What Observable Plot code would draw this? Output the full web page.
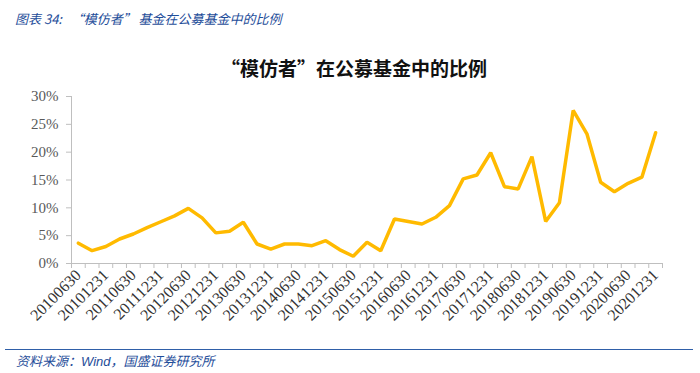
<!DOCTYPE html>
<html>
<head>
<meta charset="utf-8">
<script src="https://cdn.jsdelivr.net/npm/d3@7"></script>
<script src="https://cdn.jsdelivr.net/npm/@observablehq/plot@0.6"></script>
<style>
  html, body { margin: 0; padding: 0; background: #fff; }
  #wrap { position: relative; width: 700px; height: 373px; overflow: hidden; }
  #header { position: absolute; left: 15px; top: 9px; font: italic 13px "Noto Sans CJK SC", sans-serif; color: #1f4e9a; white-space: pre; }
  #title { position: absolute; left: 0; width: 708px; top: 54px; text-align: center; font: 700 19px "Noto Sans CJK SC", sans-serif; color: #111; }
  #rule { position: absolute; left: 5px; width: 688px; top: 349px; height: 0; border-top: 1.5px solid #2f5fa8; }
  #caption { position: absolute; left: 16px; top: 351px; font: italic 13px "Liberation Sans", "Noto Sans CJK SC", sans-serif; color: #1f4e9a; }
  #chart { position: absolute; left: 0; top: 0; }
  #chart svg text, #chart svg g { font-family: "Liberation Serif", "Times New Roman", "DejaVu Serif", serif !important; }
</style>
</head>
<body>
<div id="wrap">
  <div id="chart"></div>
  <div id="header">图表 34:   “模仿者” 基金在公募基金中的比例</div>
  <div id="title">“模仿者”在公募基金中的比例</div>
  <div id="rule"></div>
  <div id="caption">资料来源：Wind，国盛证券研究所</div>
</div>
<script>
const dates = [
  "20100630","20100930","20101231",
  "20110331","20110630","20110930","20111231",
  "20120331","20120630","20120930","20121231",
  "20130331","20130630","20130930","20131231",
  "20140331","20140630","20140930","20141231",
  "20150331","20150630","20150930","20151231",
  "20160331","20160630","20160930","20161231",
  "20170331","20170630","20170930","20171231",
  "20180331","20180630","20180930","20181231",
  "20190331","20190630","20190930","20191231",
  "20200331","20200630","20200930","20201231"
];
const shares = [
  3.65, 2.3, 3.05, 4.4, 5.3, 6.45, 7.5, 8.55, 9.9, 8.2, 5.5,
  5.8, 7.4, 3.5, 2.6, 3.5, 3.5, 3.2, 4.1, 2.5, 1.3, 3.8,
  2.3, 8.0, 7.55, 7.1, 8.3, 10.4, 15.2, 15.9, 19.9, 13.8, 13.4,
  19.2, 7.55, 10.9, 27.5, 23.3, 14.6, 12.9, 14.4, 15.5, 23.5
];
const yTicks = [0, 0.05, 0.10, 0.15, 0.20, 0.25, 0.30];
const labelDates = dates.filter((d, i) => i % 2 === 0);

const data = dates.map((d, i) => ({i, date: d, v: shares[i] / 100}));
const labelIdx = labelDates.map(d => dates.indexOf(d));
const boundaries = d3.range(dates.length + 1).map(k => k - 0.5);

const chart = Plot.plot({
  width: 700,
  height: 373,
  marginLeft: 71,
  marginRight: 38,
  marginTop: 96,
  marginBottom: 110,
  x: {type: "linear", domain: [-0.5, dates.length - 0.5]},
  y: {domain: [0, 0.30]},
  style: {fontFamily: "Liberation Serif", fontSize: "14px", color: "#595959", background: "transparent"},
  marks: [
    Plot.axisY({ticks: yTicks, tickFormat: d => Math.round(d * 100) + "%", tickSize: 5, tickPadding: 8, stroke: "#bfbfbf", fill: "#595959", fontSize: 15, label: null}),
    Plot.axisX({ticks: boundaries, tickFormat: () => "", tickSize: 5, stroke: "#bfbfbf", label: null}),
    Plot.axisX({ticks: labelIdx, tickFormat: i => dates[i], tickRotate: -45, tickSize: 0, tickPadding: 9, fontSize: 16, fill: "#333", label: null}),
    Plot.ruleY([0], {stroke: "#bfbfbf"}),
    Plot.ruleX([-0.5], {stroke: "#bfbfbf"}),
    Plot.line(data, {x: "i", y: "v", stroke: "#FFBA00", strokeWidth: 3.5, strokeLinejoin: "miter"})
  ]
});
document.getElementById("chart").appendChild(chart);
</script>
</body>
</html>
